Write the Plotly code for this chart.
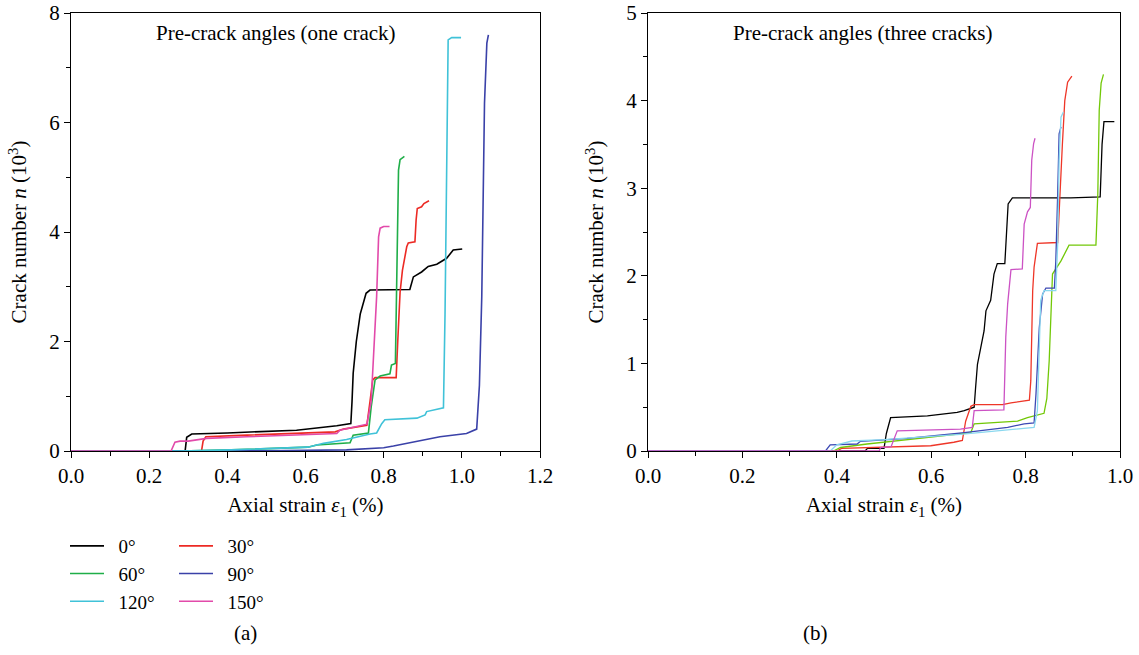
import plotly.graph_objects as go

FONT = "Liberation Serif"
FS = 21
LFS = 19

labels = ["0°", "30°", "60°", "90°", "120°", "150°"]

# ---- Left panel (one crack) ----
a0_x = [0, 0.292, 0.296, 0.309, 0.40, 0.475, 0.577, 0.68, 0.716, 0.719, 0.722, 0.73, 0.74, 0.755, 0.765, 0.867, 0.872, 0.876, 0.897, 0.914, 0.936, 0.961, 0.978, 1.001]
a0_y = [0, 0, 0.25, 0.31, 0.33, 0.35, 0.38, 0.46, 0.50, 0.9, 1.42, 2.0, 2.5, 2.88, 2.94, 2.95, 3.1, 3.18, 3.27, 3.37, 3.41, 3.52, 3.67, 3.69]
a30_x = [0, 0.334, 0.338, 0.345, 0.45, 0.577, 0.676, 0.697, 0.757, 0.765, 0.772, 0.778, 0.832, 0.836, 0.842, 0.848, 0.855, 0.859, 0.863, 0.88, 0.883, 0.886, 0.897, 0.903, 0.916]
a30_y = [0, 0, 0.18, 0.26, 0.29, 0.32, 0.35, 0.40, 0.47, 0.9, 1.3, 1.34, 1.34, 2.0, 2.9, 3.3, 3.61, 3.73, 3.80, 3.82, 4.22, 4.43, 4.46, 4.52, 4.57]
a60_x = [0, 0.28, 0.41, 0.606, 0.629, 0.645, 0.714, 0.718, 0.722, 0.761, 0.768, 0.778, 0.791, 0.816, 0.82, 0.83, 0.833, 0.836, 0.838, 0.842, 0.853]
a60_y = [0, 0, 0.02, 0.07, 0.11, 0.12, 0.15, 0.22, 0.29, 0.33, 0.8, 1.30, 1.37, 1.41, 1.57, 1.6, 2.82, 4.5, 5.13, 5.32, 5.38]
a90_x = [0, 0.35, 0.5, 0.705, 0.80, 0.825, 0.876, 0.944, 1.012, 1.038, 1.045, 1.051, 1.058, 1.064, 1.068]
a90_y = [0, 0, 0.005, 0.02, 0.06, 0.09, 0.16, 0.26, 0.32, 0.40, 1.2, 2.82, 6.35, 7.45, 7.60]
a120_x = [0, 0.28, 0.41, 0.606, 0.646, 0.705, 0.765, 0.782, 0.795, 0.803, 0.885, 0.906, 0.91, 0.953, 0.957, 0.961, 0.965, 0.974, 0.998]
a120_y = [0, 0, 0.02, 0.07, 0.14, 0.21, 0.31, 0.33, 0.50, 0.57, 0.60, 0.66, 0.72, 0.79, 2.5, 5.5, 7.51, 7.55, 7.55]
a150_x = [0, 0.256, 0.266, 0.279, 0.30, 0.347, 0.45, 0.68, 0.688, 0.757, 0.768, 0.775, 0.782, 0.787, 0.791, 0.80, 0.815]
a150_y = [0, 0, 0.16, 0.18, 0.18, 0.23, 0.26, 0.32, 0.38, 0.49, 0.9, 1.8, 2.82, 3.91, 4.07, 4.10, 4.10]

# ---- Right panel (three cracks) ----
b0_x = [0, 0.46, 0.465, 0.50, 0.505, 0.514, 0.592, 0.655, 0.67, 0.691, 0.694, 0.698, 0.705, 0.712, 0.716, 0.726, 0.733, 0.74, 0.756, 0.760, 0.763, 0.772, 0.896, 0.958, 0.962, 0.966, 0.988]
b0_y = [0, 0, 0.03, 0.03, 0.2, 0.38, 0.40, 0.44, 0.46, 0.50, 0.72, 0.99, 1.18, 1.37, 1.60, 1.72, 2.02, 2.14, 2.14, 2.63, 2.82, 2.89, 2.89, 2.90, 3.5, 3.76, 3.76]
b30_x = [0, 0.40, 0.41, 0.493, 0.514, 0.599, 0.648, 0.666, 0.673, 0.684, 0.691, 0.751, 0.769, 0.808, 0.811, 0.815, 0.818, 0.825, 0.868, 0.871, 0.878, 0.883, 0.889, 0.898]
b30_y = [0, 0, 0.03, 0.04, 0.045, 0.06, 0.10, 0.12, 0.34, 0.51, 0.53, 0.53, 0.55, 0.58, 0.8, 1.83, 2.10, 2.37, 2.38, 2.75, 3.51, 4.00, 4.21, 4.28]
b60_x = [0, 0.393, 0.408, 0.464, 0.585, 0.684, 0.691, 0.783, 0.804, 0.839, 0.845, 0.85, 0.857, 0.875, 0.892, 0.949, 0.953, 0.956, 0.96, 0.965]
b60_y = [0, 0, 0.04, 0.08, 0.15, 0.21, 0.31, 0.34, 0.38, 0.43, 0.6, 1.03, 2.02, 2.17, 2.35, 2.35, 2.94, 3.89, 4.20, 4.30]
b90_x = [0, 0.376, 0.386, 0.443, 0.45, 0.549, 0.67, 0.762, 0.797, 0.818, 0.822, 0.829, 0.836, 0.843, 0.861, 0.864, 0.868, 0.871, 0.875]
b90_y = [0, 0, 0.07, 0.08, 0.11, 0.145, 0.21, 0.27, 0.31, 0.32, 0.65, 1.41, 1.79, 1.86, 1.86, 2.17, 2.94, 3.62, 3.70]
b120_x = [0, 0.386, 0.40, 0.422, 0.432, 0.5, 0.662, 0.818, 0.825, 0.832, 0.839, 0.864, 0.868, 0.871, 0.875, 0.88]
b120_y = [0, 0, 0.07, 0.095, 0.114, 0.13, 0.19, 0.27, 0.46, 1.72, 1.83, 1.83, 2.36, 3.32, 3.81, 3.87]
b150_x = [0, 0.49, 0.4926, 0.515, 0.528, 0.662, 0.687, 0.691, 0.754, 0.758, 0.762, 0.769, 0.793, 0.797, 0.804, 0.81, 0.813, 0.817, 0.82]
b150_y = [0, 0, 0.04, 0.05, 0.23, 0.25, 0.27, 0.46, 0.47, 1.30, 1.68, 2.07, 2.08, 2.59, 2.73, 2.78, 3.32, 3.51, 3.57]

left_series = [(a0_x, a0_y), (a30_x, a30_y), (a60_x, a60_y), (a90_x, a90_y), (a120_x, a120_y), (a150_x, a150_y)]
right_series = [(b0_x, b0_y), (b30_x, b30_y), (b60_x, b60_y), (b90_x, b90_y), (b120_x, b120_y), (b150_x, b150_y)]

# order: 0°, 30°, 60°, 90°, 120°, 150°
left_colors = ["#000000", "#ec2a24", "#1fae48", "#3a41a8", "#40c2d8", "#e24aaa"]
right_colors = ["#000000", "#ee3628", "#72c808", "#3c49b4", "#8ad8ef", "#cc52c4"]
legend_of = ["legend", "legend2", "legend", "legend2", "legend", "legend2"]

fig = go.Figure()
for i, (xs, ys) in enumerate(left_series):
    fig.add_trace(go.Scatter(x=xs, y=ys, mode="lines", name="\u2002" + labels[i],
                             line=dict(color=left_colors[i], width=1.6),
                             xaxis="x", yaxis="y", legend=legend_of[i]))
for i, (xs, ys) in enumerate(right_series):
    fig.add_trace(go.Scatter(x=xs, y=ys, mode="lines", name=labels[i],
                             line=dict(color=right_colors[i], width=1.3),
                             xaxis="x2", yaxis="y2", showlegend=False))

W, H = 1139, 655
yd = [(H - 451) / H, (H - 13) / H]

axis_common = dict(showline=True, linecolor="black", linewidth=1, mirror=True,
                   ticks="outside", ticklen=6, tickwidth=1, tickcolor="black",
                   showgrid=False, zeroline=False,
                   tickfont=dict(family=FONT, size=FS, color="black"),
                   automargin=False)

fig.update_layout(
    width=W, height=H,
    margin=dict(l=0, r=0, t=0, b=0),
    paper_bgcolor="white", plot_bgcolor="white",
    font=dict(family=FONT, size=FS, color="black"),
    xaxis=dict(domain=[71 / W, 540 / W], range=[0, 1.2], dtick=0.2, tick0=0, tickformat=".1f",
               minor=dict(dtick=0.1, ticks="outside", ticklen=4, tickcolor="black"),
               title=dict(text="Axial strain <i>ε</i><sub>1</sub> (%)", standoff=10,
                          font=dict(family=FONT, size=FS)),
               **axis_common),
    yaxis=dict(domain=yd, range=[0, 8], dtick=2, tick0=0,
               minor=dict(dtick=1, ticks="outside", ticklen=4, tickcolor="black"),
               title=dict(text="Crack number <i>n</i> (10<sup>3</sup>)", standoff=16,
                          font=dict(family=FONT, size=FS)),
               **axis_common),
    xaxis2=dict(domain=[648 / W, 1120 / W], range=[0, 1.0], dtick=0.2, tick0=0, tickformat=".1f",
                anchor="y2",
                minor=dict(dtick=0.1, ticks="outside", ticklen=4, tickcolor="black"),
                title=dict(text="Axial strain <i>ε</i><sub>1</sub> (%)", standoff=10,
                           font=dict(family=FONT, size=FS)),
                **axis_common),
    yaxis2=dict(domain=yd, range=[0, 5], dtick=1, tick0=0, anchor="x2",
                minor=dict(dtick=0.5, ticks="outside", ticklen=4, tickcolor="black"),
                title=dict(text="Crack number <i>n</i> (10<sup>3</sup>)", standoff=16,
                           font=dict(family=FONT, size=FS)),
                **axis_common),
    legend=dict(x=65 / W, xanchor="left", y=1 - 527 / H, yanchor="top",
                bgcolor="rgba(0,0,0,0)", font=dict(family=FONT, size=LFS),
                tracegroupgap=0, itemwidth=34),
    legend2=dict(x=174 / W, xanchor="left", y=1 - 527 / H, yanchor="top",
                 bgcolor="rgba(0,0,0,0)", font=dict(family=FONT, size=LFS),
                 tracegroupgap=0, itemwidth=34),
    annotations=[
        dict(text="Pre-crack angles (one crack)", xref="paper", yref="paper",
             x=276 / W, y=1 - 33 / H, showarrow=False, xanchor="center", yanchor="middle",
             font=dict(family=FONT, size=FS)),
        dict(text="Pre-crack angles (three cracks)", xref="paper", yref="paper",
             x=862 / W, y=1 - 33 / H, showarrow=False, xanchor="center", yanchor="middle",
             font=dict(family=FONT, size=FS)),
        dict(text="(a)", xref="paper", yref="paper", x=245 / W, y=1 - 633 / H,
             showarrow=False, xanchor="center", yanchor="middle", font=dict(family=FONT, size=FS)),
        dict(text="(b)", xref="paper", yref="paper", x=815 / W, y=1 - 633 / H,
             showarrow=False, xanchor="center", yanchor="middle", font=dict(family=FONT, size=FS)),
    ],
)

fig.write_html("out.html")
